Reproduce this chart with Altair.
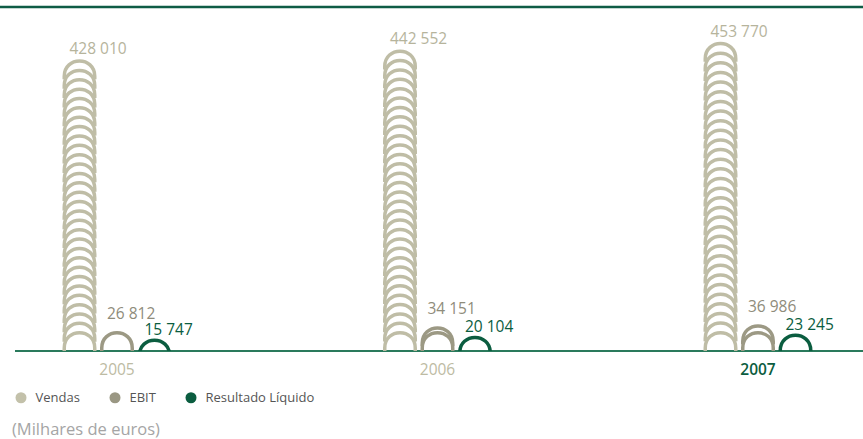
import altair as alt
import pandas as pd

years = ["2005", "2006", "2007"]
series = ["Vendas", "EBIT", "Resultado Líquido"]
vendas = [428010, 442552, 453770]
ebit = [26812, 34151, 36986]
resultado = [15747, 20104, 23245]

bar_colors = ["#bfbda6", "#9c9984", "#0b5d40"]
legend_colors = ["#c3c1aa", "#9a9783", "#0b5d40"]
label_colors = ["#b6b49c", "#8f8c7b", "#0b5d40"]
label_dy = [-7, -14, -5]

Y_MAX = 518000      # y domain so that 0 sits on the baseline
ARCH_H = 27000      # height of one arch pictogram in data units
STEP = 14000        # vertical spacing between stacked arches

rows = []
arches = []
for s, vals in zip(series, [vendas, ebit, resultado]):
    for yr, v in zip(years, vals):
        rows.append(dict(year=yr, series=s, value=v,
                         label=f"{v:,}".replace(",", " ")))
        if v > ARCH_H:
            n = round((v - ARCH_H) / STEP) + 1
            sp = (v - ARCH_H) / (n - 1) if n > 1 else 0
            tops = [v - i * sp for i in range(n)]
        else:
            tops = [v]
        for t in tops:
            arches.append(dict(year=yr, series=s, top=t))

labels_df = pd.DataFrame(rows)
arch_df = pd.DataFrame(arches)

ARCH_PATH = "M -1 1.2 L -1 1 C -1 -0.33 1 -0.33 1 1 L 1 1.2"

x_enc = alt.X(
    "year:N",
    scale=alt.Scale(type="band", domain=years, range=[-43.25, 918.25], paddingInner=0, paddingOuter=0),
    axis=alt.Axis(
        title=None, domain=False, ticks=False, grid=False,
        labelFont="Open Sans", labelFontSize=15.5, labelAngle=0,
        labelBaseline="alphabetic", labelPadding=23,
        labelColor={"condition": {"test": "datum.value == '2007'", "value": "#0b5d40"}, "value": "#bdbba3"},
        labelFontWeight={"condition": {"test": "datum.value == '2007'", "value": 600}, "value": "normal"},
    ),
)
xo_enc = alt.XOffset(
    "series:N",
    scale=alt.Scale(type="band", domain=series, range=[104, 216.5], paddingInner=0, paddingOuter=0),
)
y_scale = alt.Scale(domain=[0, Y_MAX])

arch_layer = alt.Chart(arch_df).mark_point(
    shape=ARCH_PATH, size=930, filled=False, strokeWidth=3.5, opacity=1, clip=True
).encode(
    x=x_enc,
    xOffset=xo_enc,
    y=alt.Y("top:Q", scale=y_scale, axis=None),
    stroke=alt.Stroke("series:N", scale=alt.Scale(domain=series, range=bar_colors), legend=None),
)

legend_layer = alt.Chart(labels_df).mark_circle(opacity=0, size=10).encode(
    x=x_enc,
    xOffset=xo_enc,
    y=alt.Y("value:Q", scale=y_scale, axis=None),
    fill=alt.Fill(
        "series:N",
        scale=alt.Scale(domain=series, range=legend_colors),
        legend=alt.Legend(
            title=None, orient="none", legendX=14.5, legendY=391, direction="horizontal",
            symbolType="circle", symbolSize=121, symbolStrokeWidth=0, symbolOpacity=1,
            labelFont="Open Sans", labelFontSize=13, labelColor="#555555",
            columnPadding=28, labelOffset=8,
        ),
    ),
)

text_layers = []
for i, s in enumerate(series):
    text_layers.append(
        alt.Chart(labels_df).transform_filter(alt.datum.series == s).mark_text(
            align="left", baseline="alphabetic", dx=-10, dy=label_dy[i],
            font="Open Sans", fontSize=15.5, color=label_colors[i],
        ).encode(
            x=x_enc,
            xOffset=xo_enc,
            y=alt.Y("value:Q", scale=y_scale, axis=None),
            text="label:N",
        )
    )

one = pd.DataFrame({"a": [0]})
top_line = alt.Chart(one).mark_rule(color="#0f5c45", strokeWidth=2.5).encode(
    x=alt.value(0), x2=alt.value(863), y=alt.value(7)
)
base_line = alt.Chart(one).mark_rule(color="#2a7a5c", strokeWidth=2).encode(
    x=alt.value(15), x2=alt.value(863), y=alt.value(351)
)
unit_note = alt.Chart(one).mark_text(
    align="left", baseline="alphabetic", font="Open Sans", fontSize=16.5, color="#a5a5a5"
).encode(x=alt.value(12), y=alt.value(435), text=alt.value("(Milhares de euros)"))

chart = alt.layer(
    top_line, base_line, legend_layer, arch_layer, *text_layers, unit_note
).properties(
    width=863, height=351,
    autosize=alt.AutoSizeParams(type="none"),
    padding={"left": 0, "top": 0, "right": 0, "bottom": 88},
).configure_view(stroke=None)

chart.save("out.html", embed_options={"renderer": "svg", "actions": False})
